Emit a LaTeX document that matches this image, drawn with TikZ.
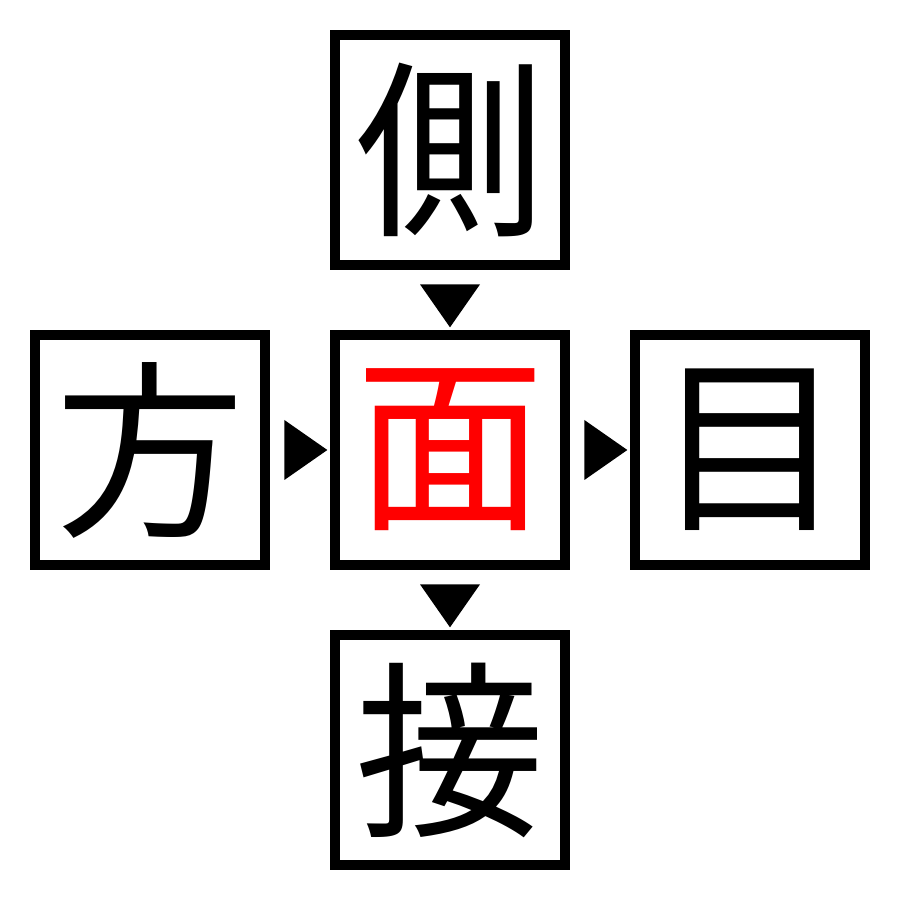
\documentclass[tikz,border=0pt]{standalone}
\usepackage{fontspec}
\newfontfamily\cjk{Noto Sans CJK JP}
\usetikzlibrary{positioning,shapes.geometric,calc}

\begin{document}
\begin{tikzpicture}[node distance=0.6cm]
\tikzstyle{kanjibox}=[draw, line width=0.1cm, minimum size=2.3cm, inner sep=0pt, font=\cjk\fontsize{54}{54}\selectfont]
\tikzstyle{pointer}=[isosceles triangle, isosceles triangle stretches, fill=black, inner sep=0pt, minimum height=0.43cm, minimum width=0.6cm]

\useasboundingbox (0,0) rectangle (9,9);

%% ========== BOXES ==========
\node[kanjibox, text=red] (mid) at (4.5,4.5) {面};
\node[kanjibox, above=of mid] (top) {側};
\node[kanjibox, left=of mid] (left) {方};
\node[kanjibox, right=of mid] (right) {目};
\node[kanjibox, below=of mid] (bottom) {接};

%% ========== POINTERS ==========
\node[pointer, shape border rotate=-90] (p-top) at ($(top.south)!0.5!(mid.north)$) {};
\node[pointer] (p-left) at ($(left.east)!0.5!(mid.west)$) {};
\node[pointer] (p-right) at ($(mid.east)!0.5!(right.west)$) {};
\node[pointer, shape border rotate=-90] (p-bottom) at ($(mid.south)!0.5!(bottom.north)$) {};

\end{tikzpicture}
\end{document}
